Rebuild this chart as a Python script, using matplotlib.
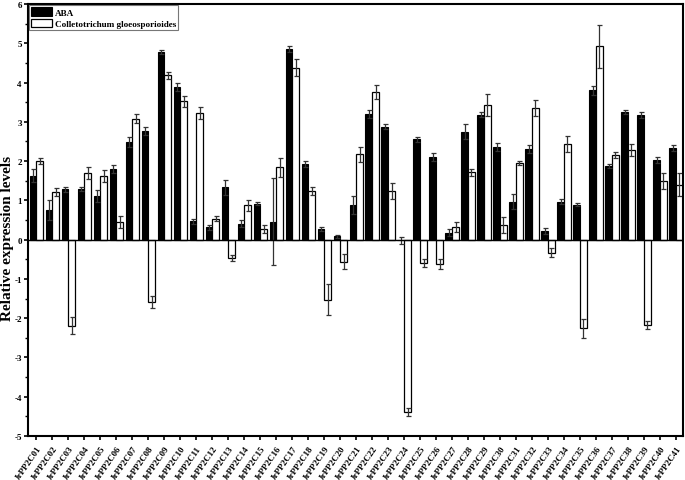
import numpy as np
import matplotlib
matplotlib.use("Agg")
import matplotlib.pyplot as plt
from matplotlib.ticker import MultipleLocator

plt.rcParams['font.family'] = ['Liberation Serif', 'DejaVu Serif']
plt.rcParams['font.weight'] = 'bold'

genes = ["JrPP2C%02d" % i for i in range(1, 42)]

aba = [1.63, 0.75, 1.28, 1.30, 1.12, 1.80, 2.49, 2.77, 4.77, 3.88,
       0.47, 0.31, 1.33, 0.41, 0.92, 0.46, 4.85, 1.93, 0.28, 0.08,
       0.88, 3.19, 2.88, -0.02, 2.55, 2.10, 0.18, 2.75, 3.18, 2.35,
       0.97, 2.30, 0.22, 0.97, 0.89, 3.80, 1.88, 3.25, 3.18, 2.03, 2.33]
aba_err = [0.17, 0.25, 0.07, 0.05, 0.15, 0.10, 0.12, 0.10, 0.05, 0.10,
           0.06, 0.07, 0.20, 0.08, 0.05, 1.10, 0.07, 0.08, 0.05, 0.04,
           0.22, 0.10, 0.07, 0.08, 0.07, 0.10, 0.08, 0.20, 0.07, 0.10,
           0.20, 0.10, 0.08, 0.07, 0.04, 0.12, 0.05, 0.05, 0.08, 0.08, 0.07]

cg = [2.00, 1.22, -2.19, 1.70, 1.63, 0.45, 3.08, -1.58, 4.18, 3.52,
      3.23, 0.53, -0.47, 0.87, 0.28, 1.84, 4.38, 1.23, -1.53, -0.56,
      2.17, 3.75, 1.23, -4.38, -0.60, -0.62, 0.32, 1.71, 3.42, 0.38,
      1.95, 3.35, -0.33, 2.44, -2.26, 4.92, 2.15, 2.28, -2.17, 1.50, 1.40]
cg_err = [0.07, 0.10, 0.22, 0.15, 0.15, 0.15, 0.12, 0.15, 0.10, 0.15,
          0.15, 0.06, 0.07, 0.15, 0.10, 0.24, 0.22, 0.10, 0.40, 0.20,
          0.20, 0.18, 0.20, 0.10, 0.10, 0.12, 0.12, 0.10, 0.28, 0.20,
          0.05, 0.20, 0.12, 0.20, 0.25, 0.55, 0.07, 0.15, 0.10, 0.20, 0.30]

fig = plt.figure(figsize=(6.85, 4.81), dpi=100)
ax = fig.add_axes([28/685, 1 - 437/481, (683 - 28)/685, (437 - 5)/481])

x = np.arange(1, len(genes) + 1)
w = 0.42
ekw = dict(elinewidth=0.9, capthick=0.9, ecolor='#333333')
ax.bar(x - w/2, aba, w, color='black', edgecolor='black', linewidth=0.8,
       yerr=aba_err, capsize=1.8, error_kw=ekw, label='ABA', zorder=2)
ax.bar(x + w/2, cg, w, color='white', edgecolor='black', linewidth=0.9,
       yerr=cg_err, capsize=1.8, error_kw=ekw,
       label='Colletotrichum gloeosporioides', zorder=2)

ax.axhline(0, color='black', linewidth=1.0, zorder=3)

ax.set_xlim(0.47, 41.44)
ax.set_ylim(-5, 6)
ax.yaxis.set_minor_locator(MultipleLocator(0.5))
ax.set_yticks(range(-5, 7))
ax.set_yticklabels([str(v) for v in range(-5, 7)], fontsize=6.5, fontweight='bold')
ax.set_xticks(x)
ax.set_xticklabels(genes, rotation=55, ha='right', rotation_mode='anchor',
                   fontsize=6.5, fontweight='bold')
ax.tick_params(axis='both', which='major', direction='out', length=3, width=1.2, pad=1.5)
ax.tick_params(axis='x', which='major', pad=3)
ax.tick_params(axis='y', which='minor', direction='out', length=2, width=1.0)
ax.set_ylabel('Relative expression levels', fontsize=11, fontweight='bold')
ax.yaxis.set_label_coords(-0.022, 0.46)

for s in ax.spines.values():
    s.set_linewidth(1.5)

leg = ax.legend(loc='upper left', fontsize=6.6, frameon=True, fancybox=False,
                edgecolor='#555555', borderpad=0.2, handlelength=2.3,
                handleheight=1.1, handletextpad=0.3, labelspacing=0.2,
                borderaxespad=0.15)
leg.get_frame().set_linewidth(0.8)
for t in leg.get_texts():
    t.set_fontweight('bold')

fig.savefig('out.png', dpi=100)
